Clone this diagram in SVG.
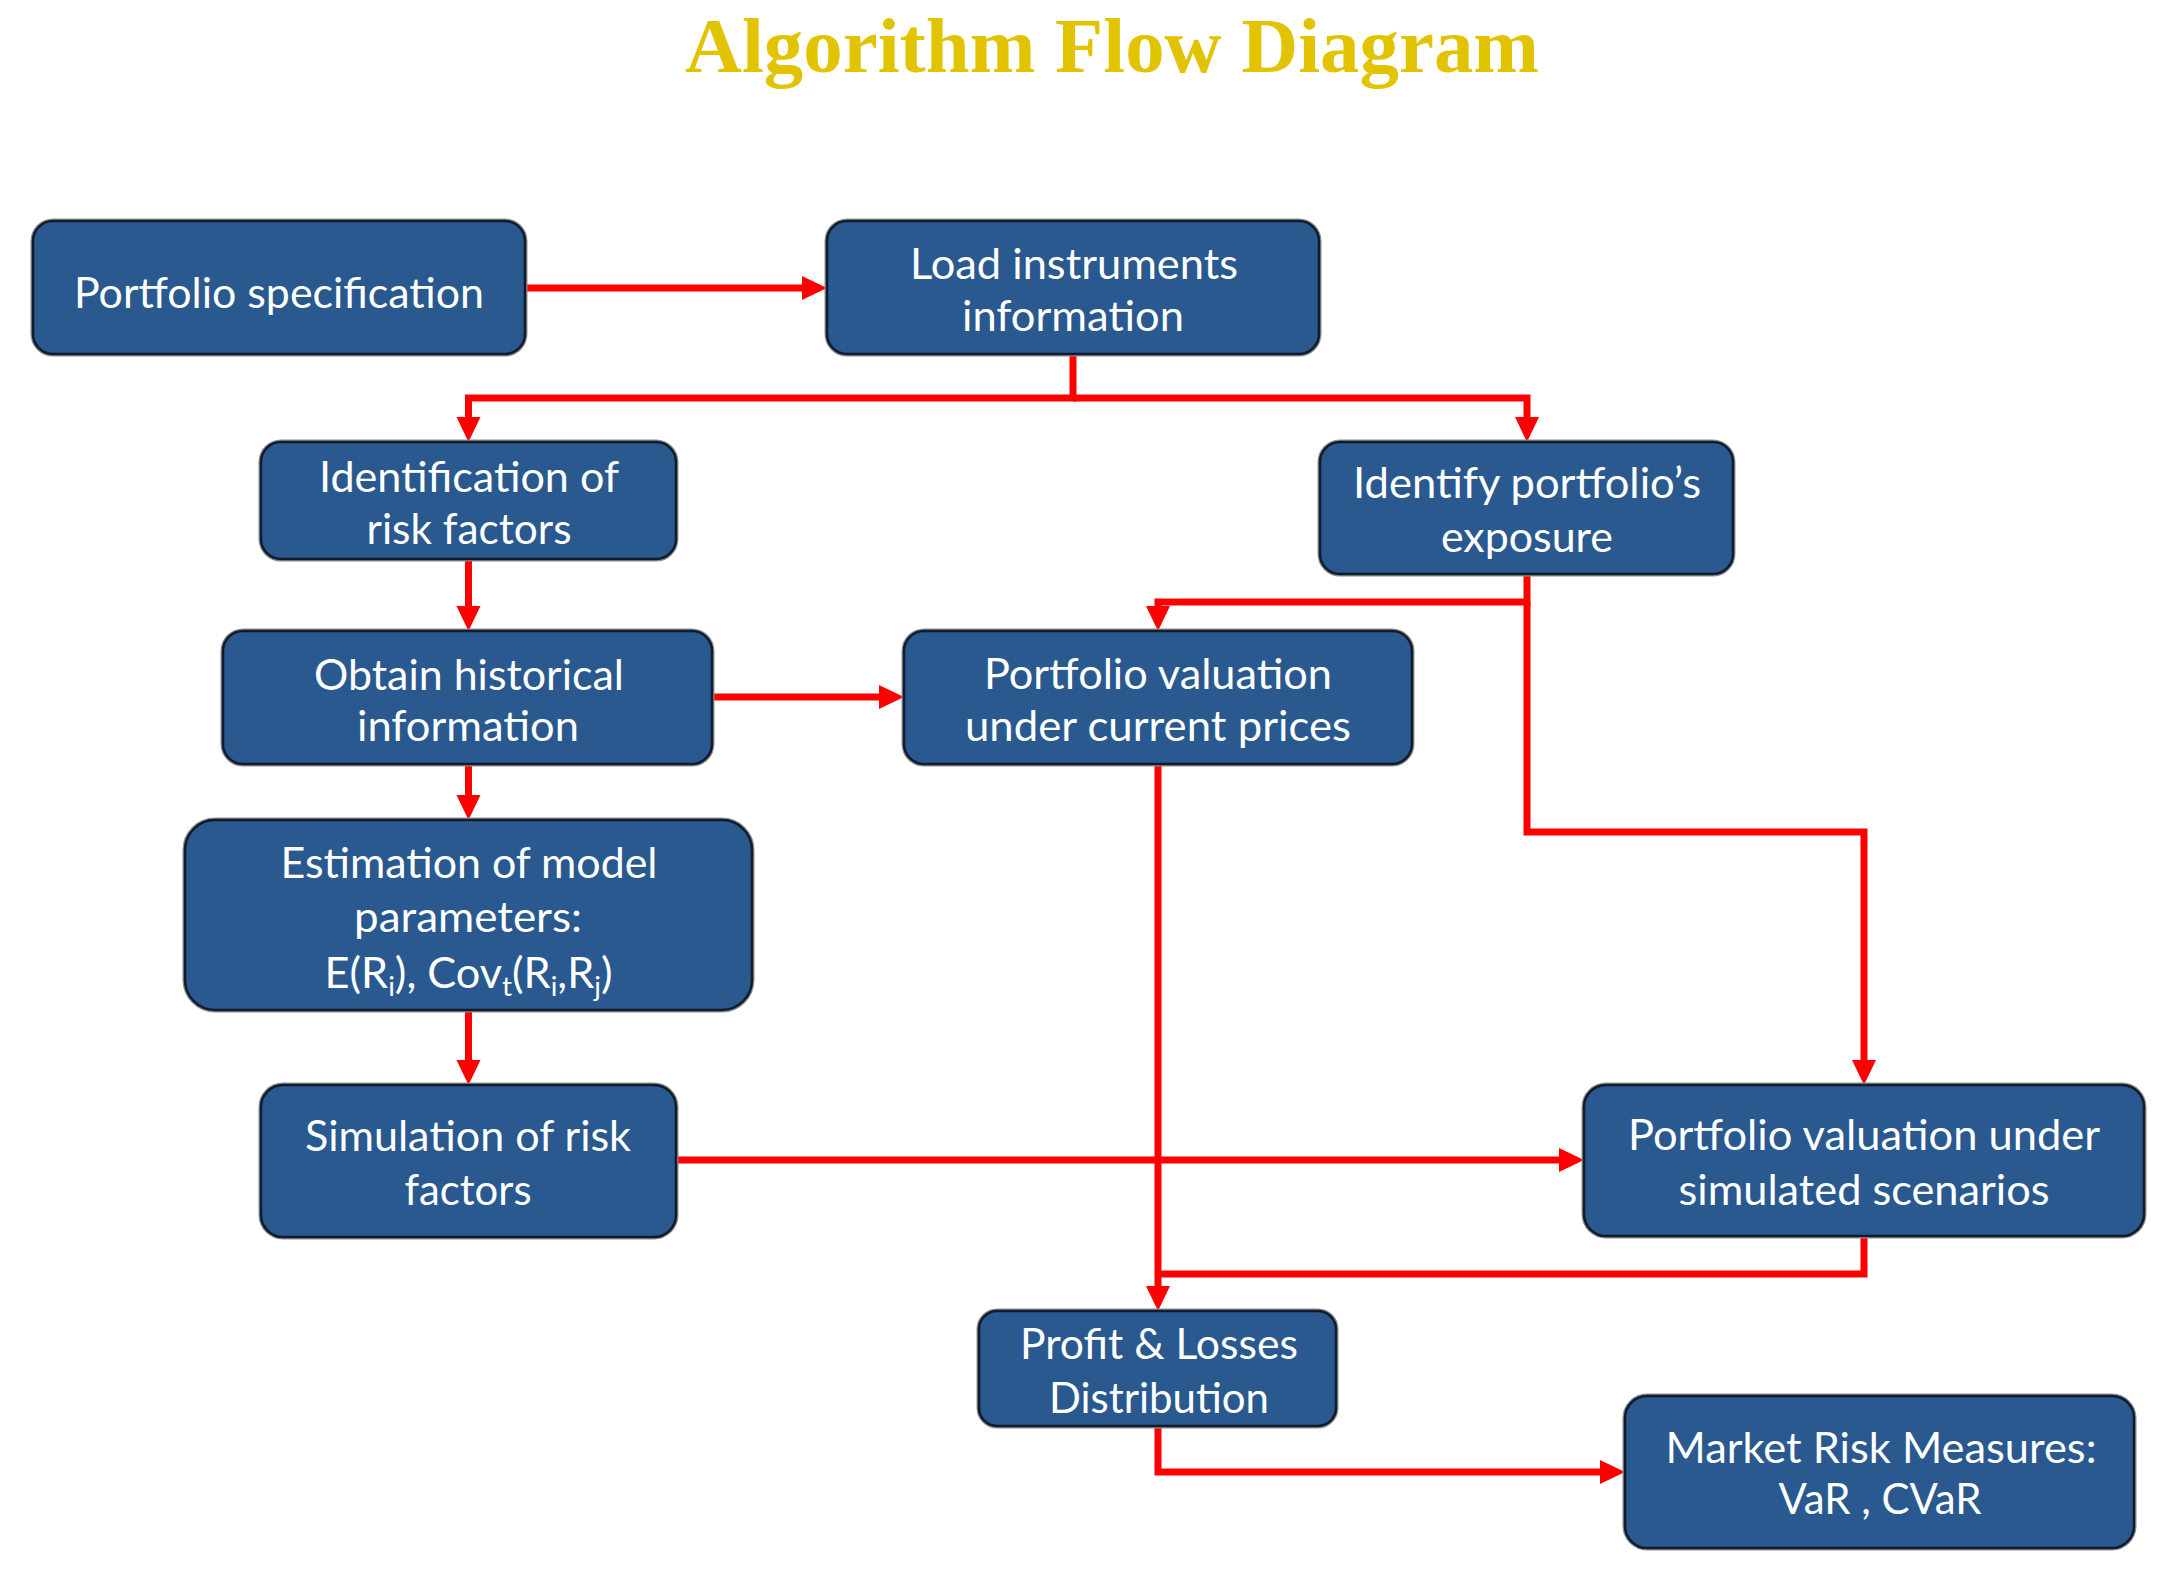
<svg xmlns="http://www.w3.org/2000/svg" width="2176" height="1574" viewBox="0 0 2176 1574">
<defs>
<style>
.box{fill:#29598F;stroke:#101C2C;stroke-width:2.5}
.halo{fill:none;stroke:#8C8C8C;stroke-width:5}
.t{font-family:Lato,"Open Sans","Liberation Sans",sans-serif;font-size:42px;fill:#FFFFFF;text-anchor:middle}
.sub{font-size:27px}
.c{fill:none;stroke:#FF0000;stroke-width:7;stroke-linejoin:miter;stroke-linecap:butt}
.title{font-family:"Liberation Serif","Times New Roman",serif;font-weight:bold;font-size:78px;fill:#E2C300;text-anchor:middle}
</style>
<marker id="ah" markerUnits="userSpaceOnUse" markerWidth="26" markerHeight="26" viewBox="0 -13 26 26" refX="0" refY="0" orient="auto">
<path d="M0,-12 L25,0 L0,12 Z" fill="#FF0000"/>
</marker>
</defs>
<rect width="2176" height="1574" fill="#FFFFFF"/>
<text class="title" x="1112" y="72" textLength="854" lengthAdjust="spacingAndGlyphs">Algorithm Flow Diagram</text>

<g id="connectors">
<path class="c" d="M525,288 H802" marker-end="url(#ah)"/>
<path class="c" d="M1073,354 V398 H468.5 V417" marker-end="url(#ah)"/>
<path class="c" d="M1073,398 H1527 V417" marker-end="url(#ah)"/>
<path class="c" d="M468.5,559 V606" marker-end="url(#ah)"/>
<path class="c" d="M712,697 H879" marker-end="url(#ah)"/>
<path class="c" d="M1527,574 V602 H1158 V606" marker-end="url(#ah)"/>
<path class="c" d="M1527,602 V832 H1864 V1060" marker-end="url(#ah)"/>
<path class="c" d="M468.5,764 V795" marker-end="url(#ah)"/>
<path class="c" d="M468.5,1010 V1060" marker-end="url(#ah)"/>
<path class="c" d="M676,1160 H1559" marker-end="url(#ah)"/>
<path class="c" d="M1158,764 V1286" marker-end="url(#ah)"/>
<path class="c" d="M1864,1236 V1274 H1158"/>
<path class="c" d="M1158,1426 V1472 H1600" marker-end="url(#ah)"/>
</g>

<g id="portfolio-specification">
<rect class="halo" x="33" y="221" width="492" height="133" rx="20"/>
<rect class="box" x="33" y="221" width="492" height="133" rx="20"/>
<text class="t" x="279" y="308" textLength="410" lengthAdjust="spacingAndGlyphs">Portfolio specification</text>
</g>

<g id="load-instruments">
<rect class="halo" x="827" y="221" width="492" height="133" rx="20"/>
<rect class="box" x="827" y="221" width="492" height="133" rx="20"/>
<text class="t" x="1074" y="279" textLength="328" lengthAdjust="spacingAndGlyphs">Load instruments</text>
<text class="t" x="1073" y="331" textLength="222" lengthAdjust="spacingAndGlyphs">information</text>
</g>

<g id="identification-risk-factors">
<rect class="halo" x="261" y="442" width="415" height="117" rx="20"/>
<rect class="box" x="261" y="442" width="415" height="117" rx="20"/>
<text class="t" x="469" y="492" textLength="300" lengthAdjust="spacingAndGlyphs">Identification of</text>
<text class="t" x="469" y="544" textLength="205" lengthAdjust="spacingAndGlyphs">risk factors</text>
</g>

<g id="identify-exposure">
<rect class="halo" x="1320" y="442" width="413" height="132" rx="20"/>
<rect class="box" x="1320" y="442" width="413" height="132" rx="20"/>
<text class="t" x="1527" y="498" textLength="348" lengthAdjust="spacingAndGlyphs">Identify portfolio’s</text>
<text class="t" x="1527" y="552" textLength="172" lengthAdjust="spacingAndGlyphs">exposure</text>
</g>

<g id="obtain-historical">
<rect class="halo" x="223" y="631" width="489" height="133" rx="20"/>
<rect class="box" x="223" y="631" width="489" height="133" rx="20"/>
<text class="t" x="469" y="690" textLength="310" lengthAdjust="spacingAndGlyphs">Obtain historical</text>
<text class="t" x="468" y="741" textLength="222" lengthAdjust="spacingAndGlyphs">information</text>
</g>

<g id="valuation-current">
<rect class="halo" x="904" y="631" width="508" height="133" rx="20"/>
<rect class="box" x="904" y="631" width="508" height="133" rx="20"/>
<text class="t" x="1158" y="689" textLength="348" lengthAdjust="spacingAndGlyphs">Portfolio valuation</text>
<text class="t" x="1158" y="741" textLength="386" lengthAdjust="spacingAndGlyphs">under current prices</text>
</g>

<g id="estimation-parameters">
<rect class="halo" x="185" y="820" width="567" height="190" rx="30"/>
<rect class="box" x="185" y="820" width="567" height="190" rx="30"/>
<text class="t" x="469" y="878" textLength="377" lengthAdjust="spacingAndGlyphs">Estimation of model</text>
<text class="t" x="468" y="932" textLength="228" lengthAdjust="spacingAndGlyphs">parameters:</text>
<text class="t" x="468.5" y="988" textLength="288" lengthAdjust="spacingAndGlyphs">E(R<tspan class="sub" dy="8">i</tspan><tspan dy="-8">), Cov</tspan><tspan class="sub" dy="8">t</tspan><tspan dy="-8">(R</tspan><tspan class="sub" dy="8">i</tspan><tspan dy="-8">,R</tspan><tspan class="sub" dy="8">j</tspan><tspan dy="-8">)</tspan></text>
</g>

<g id="simulation-risk-factors">
<rect class="halo" x="261" y="1085" width="415" height="152" rx="22"/>
<rect class="box" x="261" y="1085" width="415" height="152" rx="22"/>
<text class="t" x="468" y="1151" textLength="326" lengthAdjust="spacingAndGlyphs">Simulation of risk</text>
<text class="t" x="468" y="1205" textLength="127" lengthAdjust="spacingAndGlyphs">factors</text>
</g>

<g id="valuation-simulated">
<rect class="halo" x="1584" y="1085" width="560" height="151" rx="22"/>
<rect class="box" x="1584" y="1085" width="560" height="151" rx="22"/>
<text class="t" x="1864" y="1150" textLength="472" lengthAdjust="spacingAndGlyphs">Portfolio valuation under</text>
<text class="t" x="1864" y="1205" textLength="371" lengthAdjust="spacingAndGlyphs">simulated scenarios</text>
</g>

<g id="profit-losses">
<rect class="halo" x="979" y="1311" width="357" height="115" rx="18"/>
<rect class="box" x="979" y="1311" width="357" height="115" rx="18"/>
<text class="t" x="1159" y="1359" textLength="278" lengthAdjust="spacingAndGlyphs">Profit &amp; Losses</text>
<text class="t" x="1159" y="1413" textLength="220" lengthAdjust="spacingAndGlyphs">Distribution</text>
</g>

<g id="market-risk-measures">
<rect class="halo" x="1625" y="1396" width="509" height="152" rx="22"/>
<rect class="box" x="1625" y="1396" width="509" height="152" rx="22"/>
<text class="t" x="1881" y="1463" textLength="431" lengthAdjust="spacingAndGlyphs">Market Risk Measures:</text>
<text class="t" x="1880" y="1514" textLength="203" lengthAdjust="spacingAndGlyphs">VaR , CVaR</text>
</g>
</svg>
